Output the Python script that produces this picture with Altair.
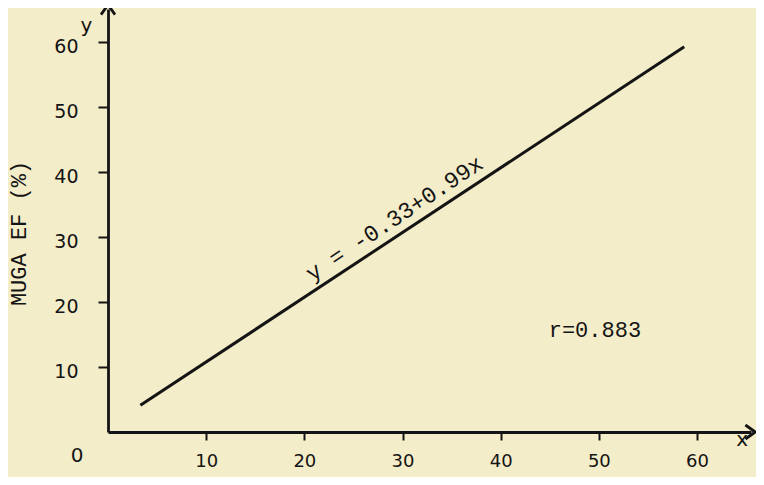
import altair as alt
import pandas as pd

# regression line end points
line_x = [3.3, 58.7]
line_y = [4.1, 59.2]

x_ticks = [10, 20, 30, 40, 50, 60]
y_ticks = [10, 20, 30, 40, 50, 60]

equation = "y = -0.33+0.99x"
eq_pos = (29.2, 32.8)
r_text = "r=0.883"
r_pos = (49.6, 15.6)

axis_letters = ["x", "y", "0"]
letters_x = [64.6, -2.2, -3.15]
letters_y = [-1.2, 62.4, -3.7]

paper = "#f4edc9"
ink = "#141414"

xs = alt.Scale(domain=[0, 65.5], nice=False, zero=False)
ys = alt.Scale(domain=[0, 65], nice=False, zero=False)

line_df = pd.DataFrame({"x": line_x, "y": line_y})

base_line = alt.Chart(line_df).mark_line(color=ink, strokeWidth=3).encode(
    x=alt.X("x:Q", scale=xs, title="",
            axis=alt.Axis(values=x_ticks, grid=False, domainColor=ink, domainWidth=2.8,
                          tickColor=ink, tickWidth=2, tickSize=8, labelPadding=12,
                          labelFont="DejaVu Sans", labelFontSize=18, labelColor=ink)),
    y=alt.Y("y:Q", scale=ys, title="MUGA EF (%)",
            axis=alt.Axis(values=y_ticks, grid=False, domainColor=ink, domainWidth=2.8,
                          tickColor=ink, tickWidth=2, tickSize=10, labelPadding=20,
                          labelOffset=5,
                          labelFont="DejaVu Sans", labelFontSize=19, labelColor=ink,
                          titleX=-90, titleY=224, titleAngle=270, titleAlign="center",
                          titleBaseline="middle", titleFont="Liberation Mono",
                          titleFontSize=22, titleFontWeight="normal", titleColor=ink)),
)

eq_df = pd.DataFrame({"x": [eq_pos[0]], "y": [eq_pos[1]], "t": [equation]})
eq = alt.Chart(eq_df).mark_text(font="Liberation Mono", fontSize=23, angle=326.4,
                                 align="center", baseline="middle", color=ink).encode(
    x=alt.X("x:Q", scale=xs), y=alt.Y("y:Q", scale=ys), text="t:N")

r_df = pd.DataFrame({"x": [r_pos[0]], "y": [r_pos[1]], "t": [r_text]})
rt = alt.Chart(r_df).mark_text(font="Liberation Mono", fontSize=22,
                                align="center", baseline="middle", color=ink).encode(
    x=alt.X("x:Q", scale=xs), y=alt.Y("y:Q", scale=ys), text="t:N")

let_df = pd.DataFrame({"x": letters_x, "y": letters_y, "t": axis_letters})
lets = alt.Chart(let_df).mark_text(font="DejaVu Sans", fontSize=20,
                                    align="center", baseline="middle", color=ink).encode(
    x=alt.X("x:Q", scale=xs), y=alt.Y("y:Q", scale=ys), text="t:N")

up_df = pd.DataFrame({"x": [0], "y": [65]})
up = alt.Chart(up_df).mark_point(shape="M-1,0.8L0,-0.6L1,0.8", size=196, filled=False,
                                 stroke=ink, strokeWidth=2.8, opacity=1).encode(
    x=alt.X("x:Q", scale=xs), y=alt.Y("y:Q", scale=ys))

right_df = pd.DataFrame({"x": [65.5], "y": [0]})
right = alt.Chart(right_df).mark_point(shape="M-0.8,-1L0.6,0L-0.8,1", size=196, filled=False,
                                       stroke=ink, strokeWidth=2.8, opacity=1).encode(
    x=alt.X("x:Q", scale=xs), y=alt.Y("y:Q", scale=ys))

chart = alt.layer(base_line, eq, rt, lets, up, right).properties(
    width=643, height=423,
    autosize=alt.AutoSizeParams(type="none"),
    padding={"left": 100, "top": 1, "right": 5, "bottom": 45},
    background=paper,
).configure_view(stroke=None)

chart.save("out.html", embed_options={"renderer": "svg", "actions": False})
